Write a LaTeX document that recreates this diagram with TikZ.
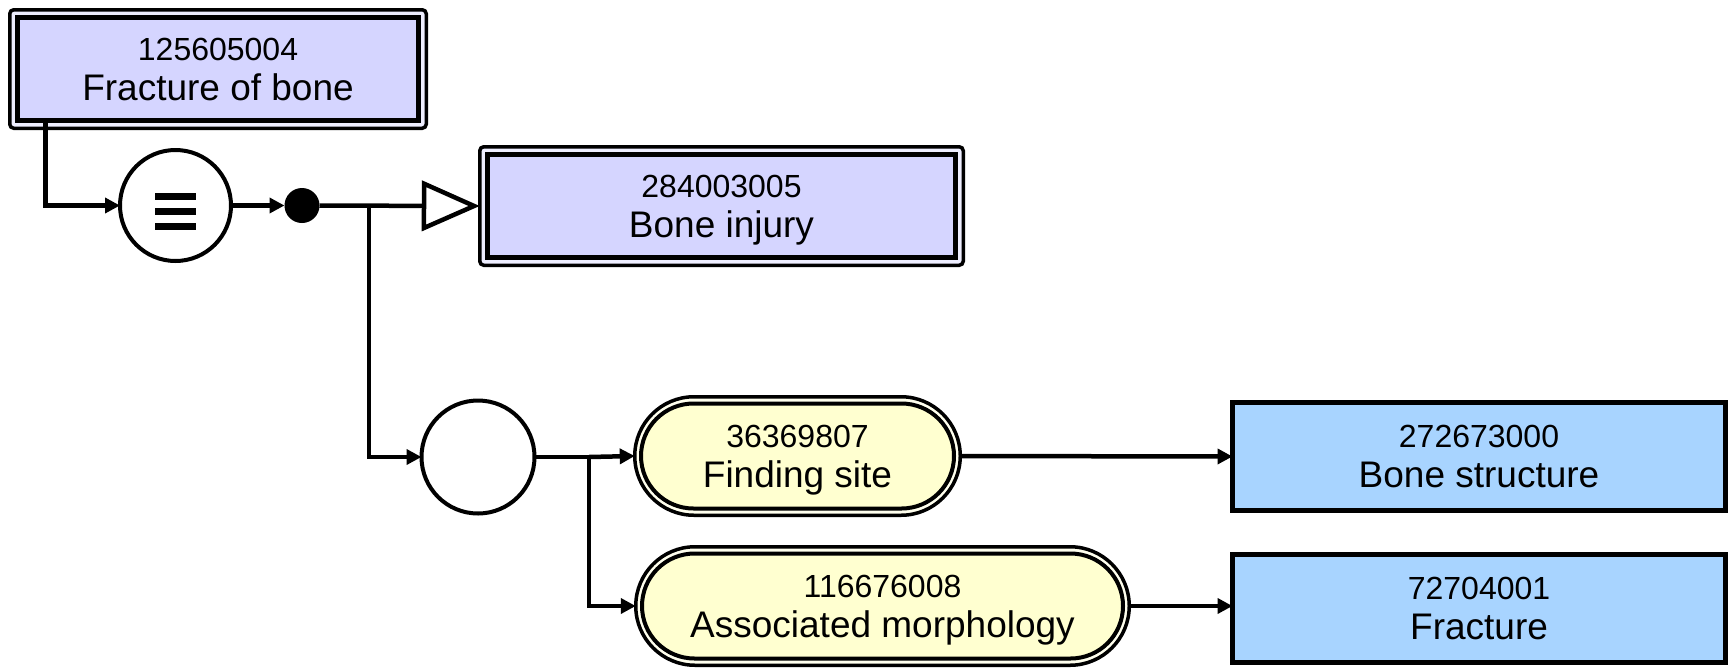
\documentclass[tikz,border=0pt]{standalone}
\usepackage{fontspec}
\setmainfont{Liberation Sans}
\usetikzlibrary{arrows.meta,shapes.misc,calc}

\definecolor{conceptfill}{RGB}{213,213,255}
\definecolor{conceptgap}{RGB}{238,238,255}
\definecolor{targetfill}{RGB}{168,212,255}
\definecolor{attrfill}{RGB}{255,255,208}
\definecolor{attrgap}{RGB}{255,255,238}

\tikzset{
  x=1pt, y=-1pt,
  conn/.style={line width=4.5pt, -{Triangle[length=15pt,width=15pt]}},
  plainline/.style={line width=4.5pt},
  defouter/.style={draw, line width=3.5pt, rounded corners=4pt, fill=conceptgap,
    inner sep=0pt, outer sep=0pt},
  definner/.style={draw, line width=5pt, fill=conceptfill, inner sep=0pt, outer sep=0pt},
  attrouter/.style={rounded rectangle, draw, line width=3.5pt, fill=attrgap,
    inner sep=0pt, outer sep=0pt},
  attrinner/.style={rounded rectangle, draw, line width=4pt, fill=attrfill,
    inner sep=0pt, outer sep=0pt},
  targetbox/.style={draw, line width=5pt, fill=targetfill, inner sep=0pt, outer sep=0pt},
  opcircle/.style={circle, draw, line width=4pt, fill=white, inner sep=0pt, outer sep=0pt},
  joindot/.style={circle, fill=black, minimum size=35pt, inner sep=0pt, outer sep=0pt},
  numtext/.style={anchor=base, inner sep=0pt, font=\fontsize{32}{38}\selectfont},
  labtext/.style={anchor=base, inner sep=0pt, font=\fontsize{37}{44}\selectfont},
}

% two-line caption (concept id and its name) centred in a node
\newcommand\conceptlabel[3]{%
  \node[numtext] (#1-num) at ($(#1.center)+(0,-9)$) {#2};
  \node[labtext] (#1-lab) at ($(#1.center)+(0,31)$) {#3};}

\begin{document}
\begin{tikzpicture}
\useasboundingbox (0,0) rectangle (1736,667);

% defined concept
\node[defouter, minimum width=416.5pt, minimum height=118.5pt] (fob) at (218,69) {};
\node[definner, minimum width=401pt, minimum height=103pt] (fobin) at (218,69) {};
\conceptlabel{fobin}{125605004}{Fracture of bone}

% equivalence operator
\node[opcircle, minimum size=111pt] (eq) at (175.5,205.5) {};
\foreach \dy in {-9.5,5.5,20.5}
  \fill ($(eq.center)+(-20.5,\dy-3.5)$) rectangle ($(eq.center)+(20.5,\dy+3.5)$);

% conjunction dot
\node[joindot] (dot) at (302,205.5) {};

% parent concept
\node[defouter, minimum width=483.5pt, minimum height=118.5pt] (bi) at (721.5,206) {};
\node[definner, minimum width=468pt, minimum height=103pt] (biin) at (721.5,206) {};
\conceptlabel{biin}{284003005}{Bone injury}

% attribute group
\node[opcircle, minimum size=113pt] (grp) at (478,457) {};

% attributes
\node[attrouter, minimum width=325.5pt, minimum height=118.5pt] (fs) at (797.5,456) {};
\node[attrinner, minimum width=313pt, minimum height=105pt] (fsin) at (797.5,456) {};
\conceptlabel{fsin}{36369807}{Finding site}

\node[attrouter, minimum width=493.5pt, minimum height=118.5pt] (am) at (882.5,606) {};
\node[attrinner, minimum width=481pt, minimum height=105pt] (amin) at (882.5,606) {};
\conceptlabel{amin}{116676008}{Associated morphology}

% attribute values
\node[targetbox, minimum width=493pt, minimum height=108pt] (bs) at (1479,456.5) {};
\conceptlabel{bs}{272673000}{Bone structure}
\node[targetbox, minimum width=493pt, minimum height=108pt] (fr) at (1479,608.5) {};
\conceptlabel{fr}{72704001}{Fracture}

% connectors
\coordinate (fobfoot) at ($(fobin.south west)+(28,0)$);
\draw[conn] (fobfoot) |- (eq);
\draw[conn] (eq) -- (dot);
\draw[plainline, -{Triangle[length=58pt,width=50pt,fill=white]}] (dot) -- (bi.west);
\coordinate (br1) at (369,205.5);
\draw[conn] (br1) |- (grp);
\coordinate (br2) at (589,457);
\draw[plainline] (grp) -- (br2);
\draw[conn] (br2) -- (fs.west);
\draw[conn] (br2) |- (am.west);
\draw[conn] (fs.east) -- (bs.west);
\draw[conn] (am.east) -- (am.east -| fr.west);
\end{tikzpicture}
\end{document}
